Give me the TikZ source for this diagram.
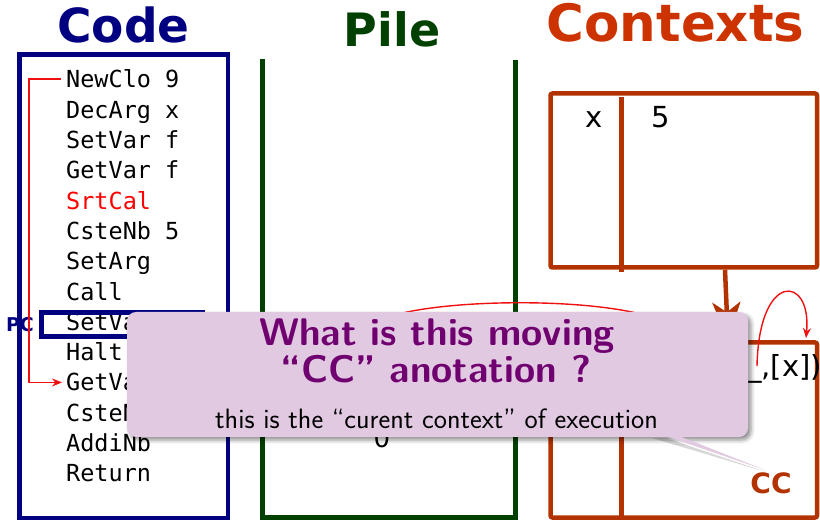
\documentclass[tikz,border=0pt]{standalone}
\usepackage{fontspec}
\setmainfont{DejaVu Sans}
\setmonofont{DejaVu Sans Mono}
\usetikzlibrary{arrows.meta,shadows.blur,calc}
\definecolor{navyc}{RGB}{0,0,128}
\definecolor{pilegreen}{RGB}{0,64,0}
\definecolor{ctxtitle}{RGB}{204,51,0}
\definecolor{ctxline}{RGB}{178,50,0}
\definecolor{calloutfill}{RGB}{225,201,225}
\definecolor{callouttitle}{RGB}{112,0,112}
\definecolor{arrowred}{RGB}{240,16,16}
\tikzset{
  titlefont/.style={font=\fontsize{#1}{#1}\selectfont\bfseries, anchor=base, inner sep=0},
  codeline/.style={anchor=base west, inner sep=0, font=\ttfamily\fontsize{23.5}{25}\selectfont},
  ctxbox/.style={draw=ctxline, line width=4.5, rounded corners=2, inner sep=0, minimum width=266.5},
  ctxtext/.style={anchor=base, inner sep=0, font=\fontsize{29}{30}\selectfont},
  redarrow/.style={draw=arrowred, line width=1.4, -{Stealth[length=10,width=8]}},
  calloutbox/.style={fill=calloutfill, rounded corners=9, inner sep=0,
     minimum width=621, minimum height=125,
     blur shadow={shadow xshift=3pt, shadow yshift=-3pt, shadow blur radius=4pt, shadow opacity=45}},
}
\begin{document}
\begin{tikzpicture}[x=1pt,y=-1pt]
\useasboundingbox (0,0) rectangle (820,521);

% ---- titles
\node[titlefont=47, text=navyc] (tcode) at (123.5,43) {Code};
\node[titlefont=46, text=pilegreen] (tpile) at (392,47) {Pile};
\node[titlefont=51.5, text=ctxtitle] (tctx) at (675.5,42) {Contexts};

% ---- code column
\draw[navyc, line width=4.5] (19.5,54.5) rectangle (228,518);
\node[codeline] (l1) at (66,88) {NewClo 9};
\node[codeline] (l2) at (66,118.3) {DecArg x};
\node[codeline] (l3) at (66,148.6) {SetVar f};
\node[codeline] (l4) at (66,178.9) {GetVar f};
\node[codeline, text=red] (l5) at (66,209.2) {SrtCal};
\node[codeline] (l6) at (66,239.5) {CsteNb 5};
\node[codeline] (l7) at (66,269.8) {SetArg};
\node[codeline] (l8) at (66,300.1) {Call};
\node[codeline] (l9) at (66,330.4) {SetVa};
\node[codeline] (l10) at (66,360.7) {Halt};
\node[codeline] (l11) at (66,391) {GetVa};
\node[codeline] (l12) at (66,421.3) {CsteN};
\node[codeline] (l13) at (66,451.6) {AddiNb};
\node[codeline] (l14) at (66,481.9) {Return};

\node[draw=navyc, line width=5, minimum width=160.5, minimum height=24, inner sep=0] (pcbox) at (121.75,324.5) {};
\node[text=navyc, font=\fontsize{19}{19}\selectfont\bfseries, inner sep=0] (pc) at (20,325) {PC};

\draw[redarrow] ([xshift=-5pt]l1.west) -- ++(-32,0) |- ([xshift=-4pt]l11.west);

% ---- pile
\draw[pilegreen, line width=5] (262.5,59) -- (262.5,517) -- (515.5,517) -- (515.5,60);
\node[anchor=base, inner sep=0, font=\fontsize{26}{26}\selectfont] (zero) at (382,448) {0};

% ---- contexts
\node[ctxbox, minimum height=174] (ctx1) at (683.75,180.5) {};
\draw[ctxline, line width=4.5] (621.5,97) -- (621.5,272);
\node[ctxtext] (cx) at (594.5,128) {x};
\node[ctxtext] (c5) at (660.5,128) {5};

\node[ctxbox, minimum height=175] (ctx2) at (683.75,430) {};
\draw[ctxline, line width=4.5] (621.5,342.5) -- (621.5,517.5);
\node[ctxtext, anchor=base west] (cval) at (747,377) {\_,[x])};

\draw[ctxline, line width=4.5, -{Stealth[length=38,width=28,inset=10]}]
  ([xshift=41.25pt]ctx1.south) -- ([xshift=44.25pt]ctx2.north);

\coordinate (selfA) at (757,366);
\coordinate (selfB) at (806,338);
\draw[redarrow] (selfA) .. controls (759,270) and (812,275) .. (selfB);

\coordinate (arcA) at (380,320);
\coordinate (arcB) at (660,320);
\draw[arrowred, line width=1.4] (arcA) .. controls (430,298) and (600,296) .. (arcB);

\node[text=ctxline, font=\fontsize{28}{28}\selectfont\bfseries, inner sep=0] (cc) at (771,483) {CC};

% ---- callout
\coordinate (tip) at (765,470);
\fill[black!35, opacity=0.45] (652,438) -- ([xshift=1pt,yshift=-2pt]tip) -- (666,438) -- cycle;
\node[calloutbox] (callout) at (437.5,374.5) {};
\fill[calloutfill] (648,430) -- (tip) -- (664,430) -- cycle;
\node[anchor=base, inner sep=0, text=callouttitle, font=\sffamily\bfseries\fontsize{38.5}{38.5}\selectfont] (ct1) at (437,346) {What is this moving};
\node[anchor=base, inner sep=0, text=callouttitle, font=\sffamily\bfseries\fontsize{38.5}{38.5}\selectfont] (ct2) at (436,383) {“CC” anotation ?};
\node[anchor=base, inner sep=0, font=\sffamily\fontsize{28}{28}\selectfont] (csub) at (436.5,429) {this is the “curent context” of execution};
\end{tikzpicture}
\end{document}
